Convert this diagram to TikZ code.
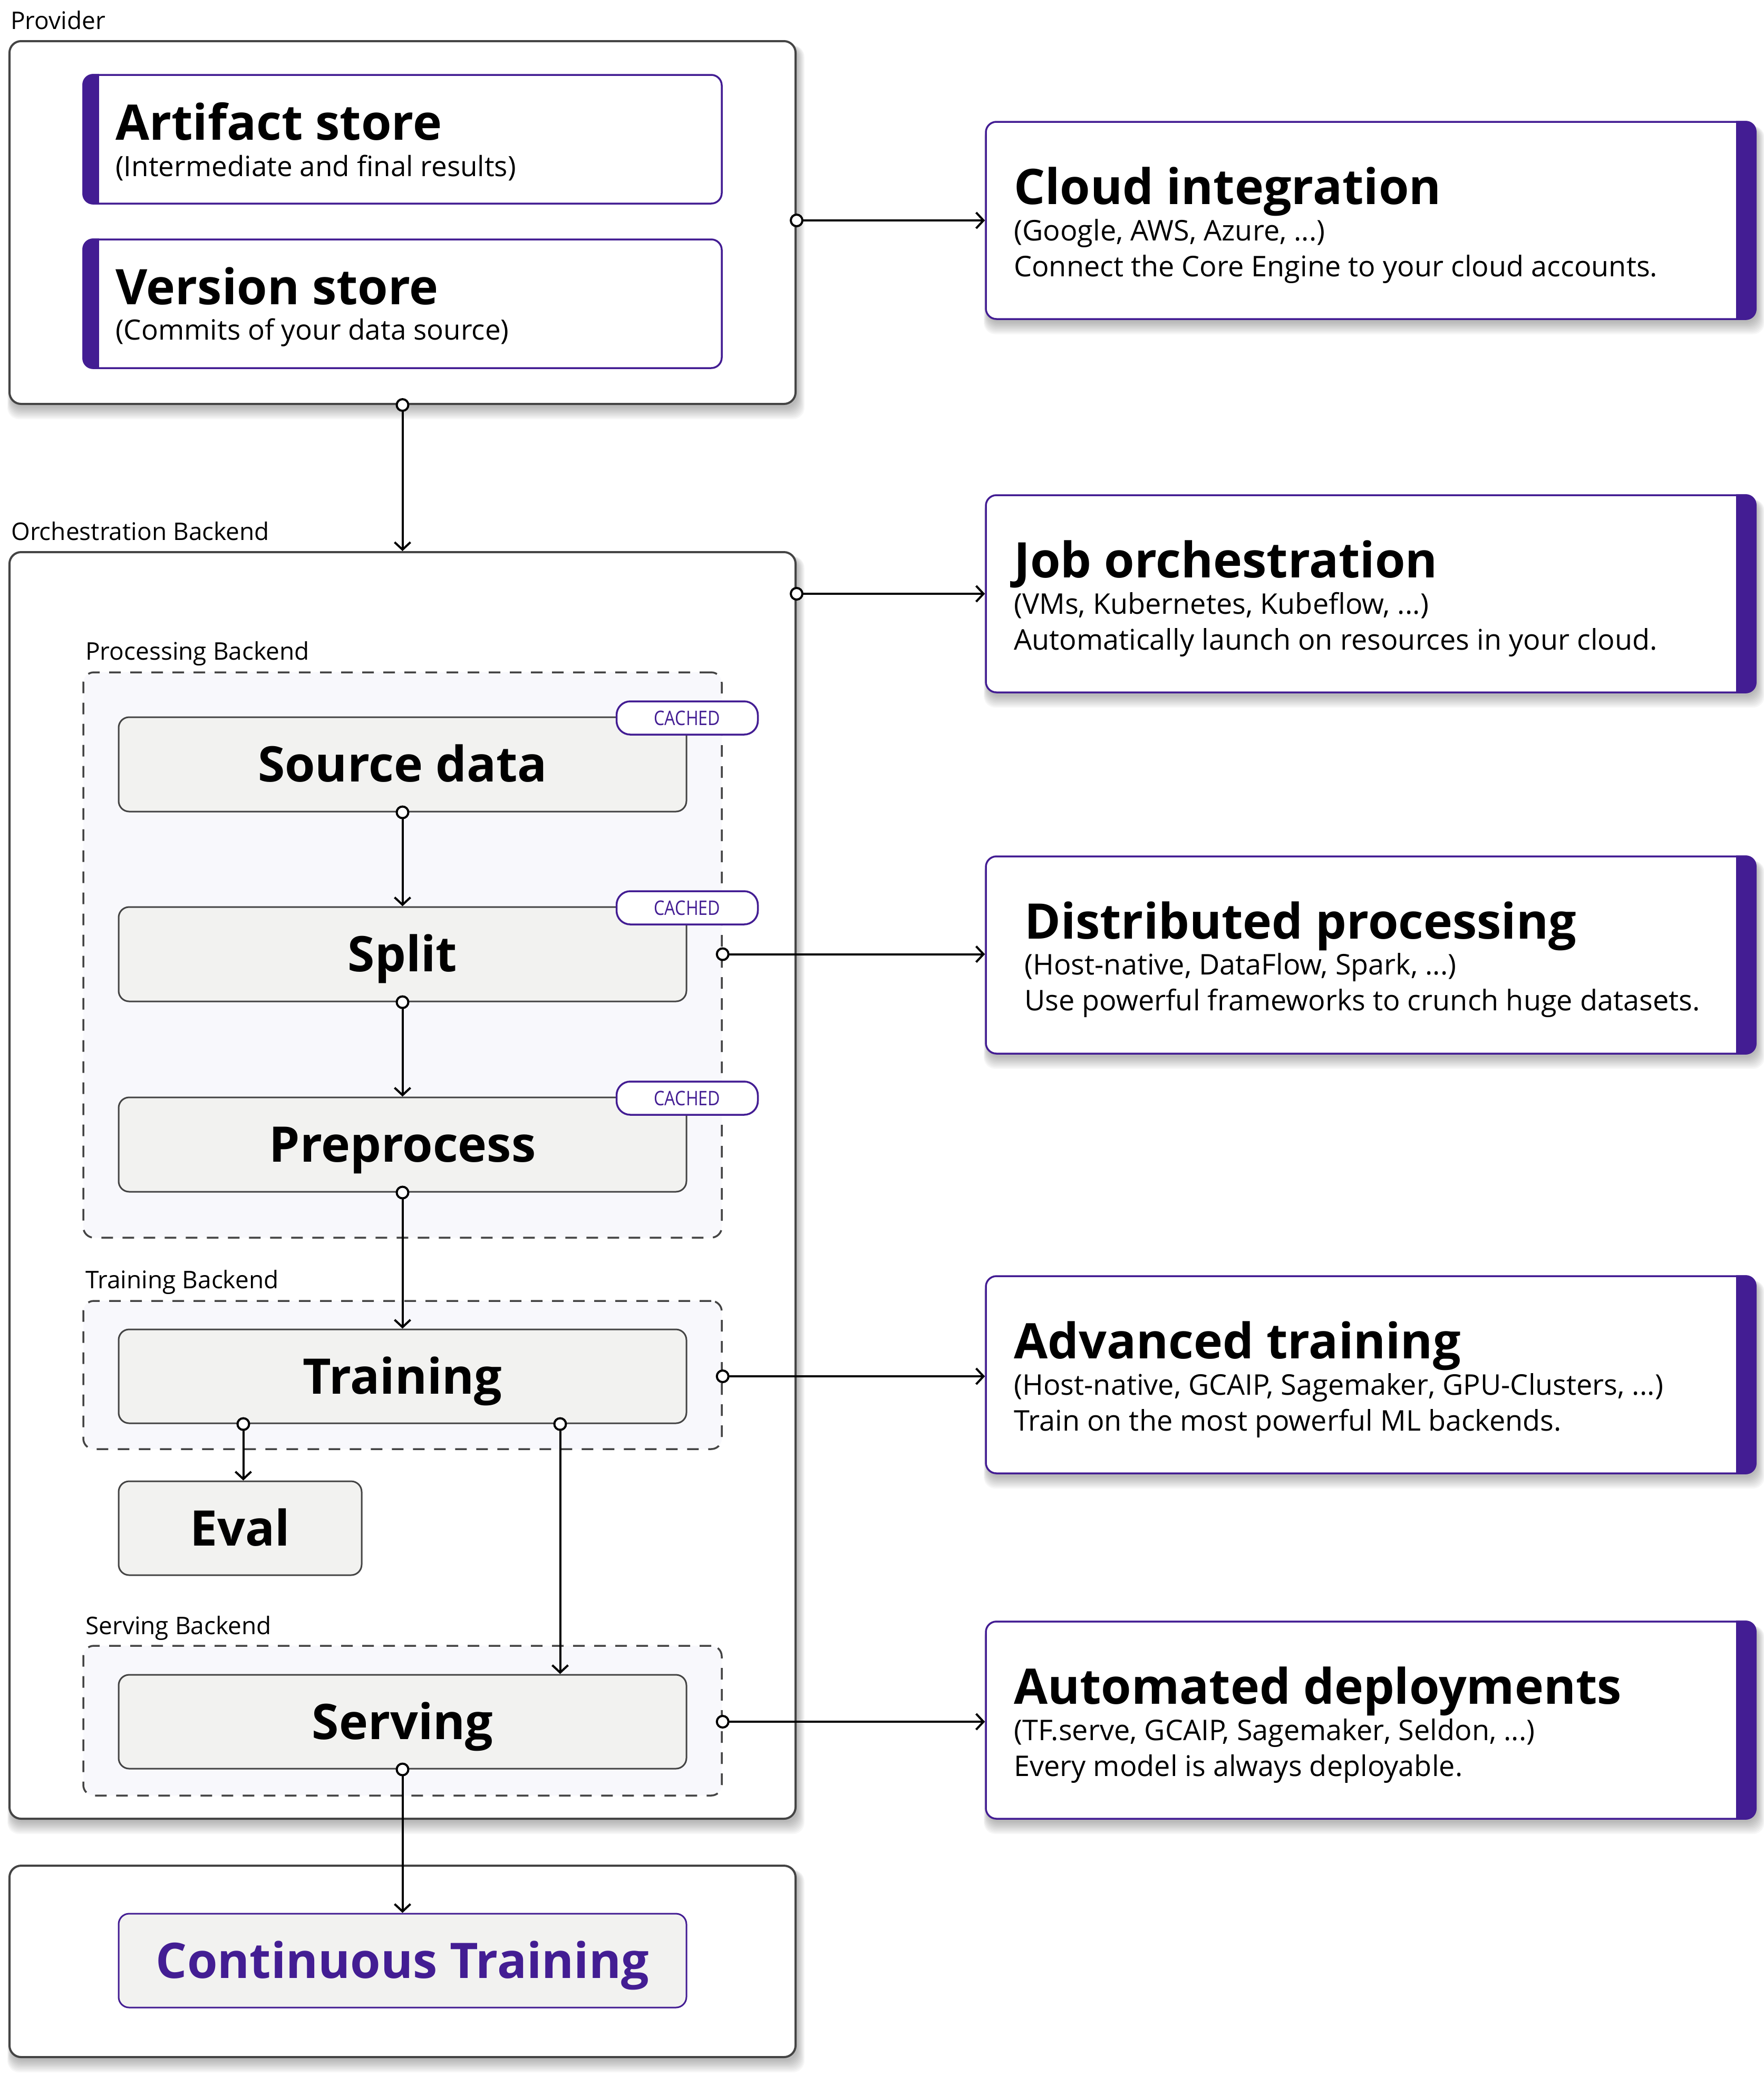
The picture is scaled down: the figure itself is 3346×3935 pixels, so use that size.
\documentclass[tikz,border=0pt]{standalone}
\usepackage{fontspec}
\setmainfont{Open Sans}
\newfontfamily\cachedfont[FakeStretch=0.85]{Open Sans}
\usetikzlibrary{arrows.meta,calc}
\definecolor{zpurple}{RGB}{67,29,147}
\definecolor{zgray}{RGB}{68,68,68}
\definecolor{zstage}{RGB}{242,242,240}
\definecolor{zdash}{RGB}{248,248,252}
\newcommand\fsz[2]{\fontsize{#1}{#2}\selectfont}
\newcommand\softshadow[4]{%
  \foreach \i in {1,...,10}{%
    \fill[black,opacity=0.03,rounded corners=22pt] (#1+4-\i*0.8,#2+8) rectangle (#3+2+\i*1.5,#4+4+\i*2.5);}}
\tikzset{
  outerbox/.style={draw=zgray, line width=4pt, fill=white, rounded corners=22pt, inner sep=0pt},
  dashbox/.style={draw=zgray, line width=3.5pt, dash pattern=on 22pt off 18pt, fill=zdash, rounded corners=20pt, inner sep=0pt},
  stagebox/.style={draw=zgray, line width=3pt, fill=zstage, rounded corners=20pt, inner sep=0pt, font=\fsz{93}{100}\bfseries, text height=66pt, text depth=0pt},
  cardbox/.style={draw=zpurple, line width=3.5pt, fill=white, rounded corners=20pt, inner sep=0pt},
  badge/.style={draw=zpurple, line width=3.5pt, fill=white, rounded corners=26pt, minimum width=268pt, minimum height=63pt, inner sep=0pt, text=zpurple, font=\cachedfont\fsz{38}{40}, text height=27pt, text depth=0pt},
  grouplabel/.style={anchor=base west, inner sep=0pt, font=\fsz{46}{50}},
  cardtitle/.style={anchor=base west, inner sep=0pt, font=\fsz{93}{100}\bfseries},
  cardsub/.style={anchor=base west, inner sep=0pt, font=\fsz{54}{60}},
  storesub/.style={anchor=base west, inner sep=0pt, font=\fsz{53}{58}},
  conn/.style={draw=black, line width=4pt, -{Straight Barb[length=14pt,width=30pt]}},
  portdot/.style={circle, draw=black, line width=4pt, fill=white, minimum size=22pt, inner sep=0pt},
}
\begin{document}
\begin{tikzpicture}[x=1pt,y=-1pt]
\useasboundingbox (0,0) rectangle (3346,3935);
% shadows
\softshadow{18}{78}{1509}{766}
\softshadow{18}{1047}{1509}{3449}
\softshadow{18}{3538}{1509}{3901}
\softshadow{1870}{231}{3330}{605}
\softshadow{1870}{939}{3330}{1313}
\softshadow{1870}{1624}{3330}{1998}
\softshadow{1870}{2420}{3330}{2794}
\softshadow{1870}{3075}{3330}{3449}

% Provider
\node[grouplabel] (provL) at (20,55) {Provider};
\node[outerbox, minimum width=1491pt, minimum height=688pt] (prov) at (763.5,422) {};
\node[cardbox, minimum width=1211pt, minimum height=244pt] (art) at (763.5,264) {};
\node[cardbox, minimum width=1211pt, minimum height=244pt] (ver) at (763.5,576) {};
\foreach \b in {art,ver}{
  \begin{scope}
    \clip[rounded corners=20pt] (\b.south west) rectangle (\b.north east);
    \fill[zpurple] (\b.south west) rectangle ($(\b.north west)+(32,0)$);
  \end{scope}}
\node[cardtitle] (artT) at (219,265) {Artifact store};
\node[storesub] (artS) at (219,334) {(Intermediate and final results)};
\node[cardtitle] (verT) at (219,577) {Version store};
\node[storesub] (verS) at (219,644) {(Commits of your data source)};

% Orchestration
\node[grouplabel] (orchL) at (21,1024) {Orchestration Backend};
\node[outerbox, minimum width=1491pt, minimum height=2402pt] (orch) at (763.5,2248) {};

\node[grouplabel] (procL) at (162,1251) {Processing Backend};
\node[dashbox, minimum width=1211pt, minimum height=1072pt] (proc) at (763.5,1811) {};
\node[stagebox, minimum width=1077pt, minimum height=179pt] (src) at (763.5,1449.5) {Source data};
\node[stagebox, minimum width=1077pt, minimum height=179pt] (split) at (763.5,1809.5) {Split};
\node[stagebox, minimum width=1077pt, minimum height=179pt] (prep) at (763.5,2170.5) {Preprocess};
\node[badge] (c1) at ($(src.north east)+(0,3)$) {CACHED};
\node[badge] (c2) at ($(split.north east)+(0,3)$) {CACHED};
\node[badge] (c3) at ($(prep.north east)+(0,3)$) {CACHED};

\node[grouplabel] (trL) at (162,2443) {Training Backend};
\node[dashbox, minimum width=1211pt, minimum height=281pt] (trbk) at (763.5,2607.5) {};
\node[stagebox, minimum width=1077pt, minimum height=178pt] (train) at (763.5,2610) {Training};
\node[stagebox, minimum width=461pt, minimum height=178pt] (eval) at (455.5,2898) {Eval};

\node[grouplabel] (svL) at (162,3099) {Serving Backend};
\node[dashbox, minimum width=1211pt, minimum height=284pt] (svbk) at (763.5,3263) {};
\node[stagebox, minimum width=1077pt, minimum height=178pt] (serv) at (763.5,3265) {Serving};

% Continuous training
\node[outerbox, minimum width=1491pt, minimum height=363pt] (ctout) at (763.5,3719.5) {};
\node[stagebox, draw=zpurple, text=zpurple, minimum width=1077pt, minimum height=178pt] (ct) at (763.5,3718) {Continuous Training};

% Right cards
\node[cardbox, minimum width=1460pt, minimum height=374pt] (cloud) at (2600,418) {};
\node[cardbox, minimum width=1460pt, minimum height=374pt] (job) at (2600,1126) {};
\node[cardbox, minimum width=1460pt, minimum height=374pt] (dist) at (2600,1811) {};
\node[cardbox, minimum width=1460pt, minimum height=374pt] (adv) at (2600,2607) {};
\node[cardbox, minimum width=1460pt, minimum height=374pt] (auto) at (2600,3262) {};
\foreach \b in {cloud,job,dist,adv,auto}{
  \begin{scope}
    \clip[rounded corners=20pt] (\b.south west) rectangle (\b.north east);
    \fill[zpurple] ($(\b.south east)+(-39,0)$) rectangle (\b.north east);
  \end{scope}}

\node[cardtitle] (cloudT) at (1923,387) {Cloud integration};
\node[cardsub] (cloudS) at (1923,456) {(Google, AWS, Azure, ...)};
\node[cardsub] (cloudD) at (1923,524) {Connect the Core Engine to your cloud accounts.};

\node[cardtitle] (jobT) at (1923,1095) {Job orchestration};
\node[cardsub] (jobS) at (1923,1164) {(VMs, Kubernetes, Kubeflow, ...)};
\node[cardsub] (jobD) at (1923,1232) {Automatically launch on resources in your cloud.};

\node[cardtitle] (distT) at (1943,1780) {Distributed processing};
\node[cardsub] (distS) at (1943,1848) {(Host-native, DataFlow, Spark, ...)};
\node[cardsub] (distD) at (1943,1916) {Use powerful frameworks to crunch huge datasets.};

\node[cardtitle] (advT) at (1923,2576) {Advanced training};
\node[cardsub] (advS) at (1923,2645) {(Host-native, GCAIP, Sagemaker, GPU-Clusters, ...)};
\node[cardsub] (advD) at (1923,2713) {Train on the most powerful ML backends.};

\node[cardtitle] (autoT) at (1923,3231) {Automated deployments};
\node[cardsub] (autoS) at (1923,3300) {(TF.serve, GCAIP, Sagemaker, Seldon, ...)};
\node[cardsub] (autoD) at (1923,3368) {Every model is always deployable.};

% connectors
\coordinate (te) at ($(train.south west)+(238,0)$);
\coordinate (ts) at ($(train.south west)+(839,0)$);
\draw[conn] (cloud.west -| prov.east) -- (cloud.west);
\draw[conn] (prov.south) -- (orch.north);
\draw[conn] (job.west -| orch.east) -- (job.west);
\draw[conn] (src.south) -- (split.north);
\draw[conn] (split.south) -- (prep.north);
\draw[conn] (split.east -| proc.east) -- (split.east -| dist.west);
\draw[conn] (prep.south) -- (train.north);
\draw[conn] (train.east -| trbk.east) -- (train.east -| adv.west);
\draw[conn] (te) -- (te |- eval.north);
\draw[conn] (ts) -- (ts |- serv.north);
\draw[conn] (serv.east -| svbk.east) -- (serv.east -| auto.west);
\draw[conn] (serv.south) -- (ct.north);

\node[portdot] (d1) at (cloud.west -| prov.east) {};
\node[portdot] (d2) at (prov.south) {};
\node[portdot] (d3) at (job.west -| orch.east) {};
\node[portdot] (d4) at (src.south) {};
\node[portdot] (d5) at (split.south) {};
\node[portdot] (d6) at (split.east -| proc.east) {};
\node[portdot] (d7) at (prep.south) {};
\node[portdot] (d8) at (train.east -| trbk.east) {};
\node[portdot] (d9) at (te) {};
\node[portdot] (d10) at (ts) {};
\node[portdot] (d11) at (serv.east -| svbk.east) {};
\node[portdot] (d12) at (serv.south) {};
\end{tikzpicture}
\end{document}
